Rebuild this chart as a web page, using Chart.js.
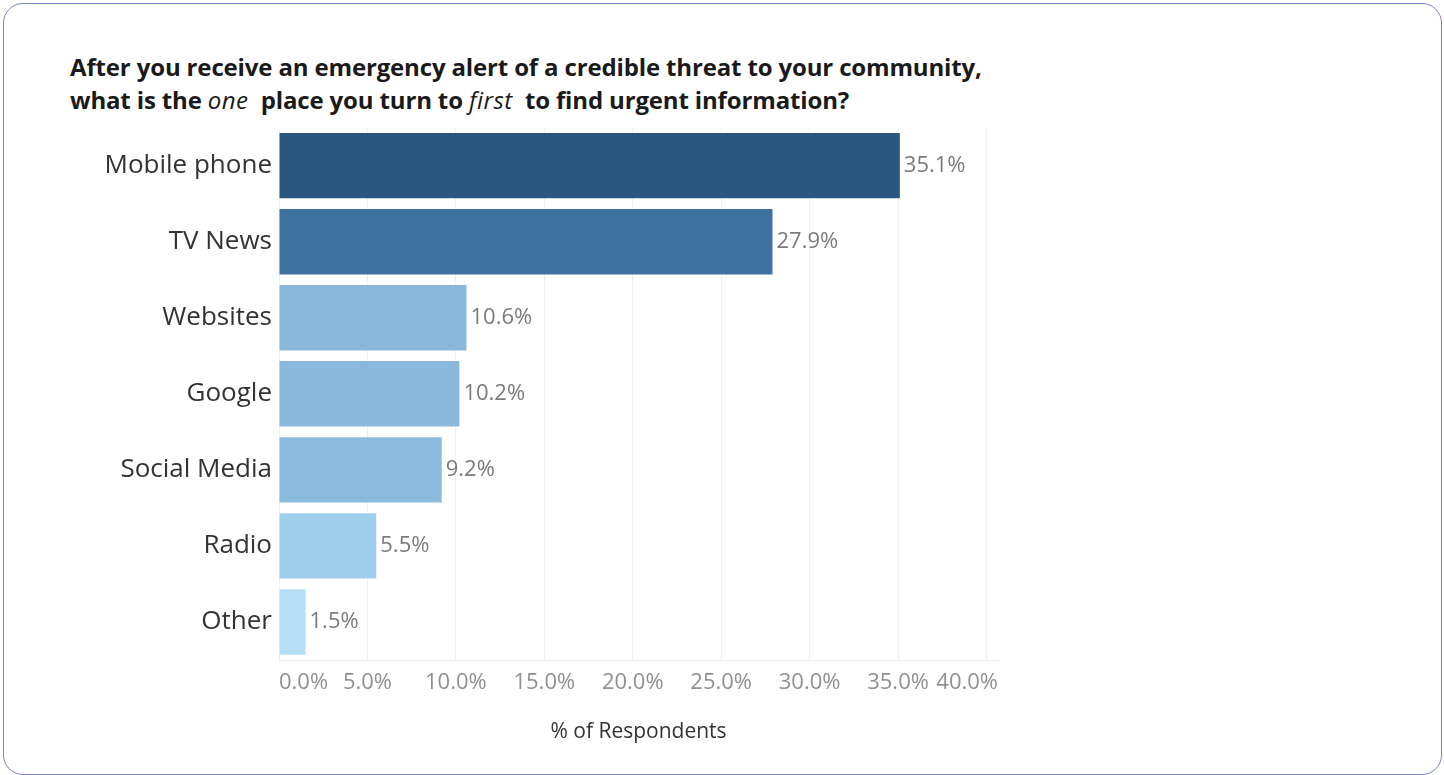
<!DOCTYPE html>
<html>
<head>
<meta charset="utf-8">
<script src="https://cdn.jsdelivr.net/npm/chart.js@4"></script>
<style>
  html, body { margin: 0; padding: 0; background: #fff; }
  body { width: 1444px; height: 775px; position: relative; overflow: hidden; font-family: "Open Sans", sans-serif; }
  .frame {
    position: absolute; left: 3px; top: 3px; width: 1439px; height: 772px;
    border: 1.5px solid #7c80c6; border-radius: 20px; box-sizing: border-box;
  }
  .title {
    position: absolute; left: 70px; top: 50px;
    font-size: 24px; font-weight: 700; color: #1a1a1a; line-height: 33px;
    letter-spacing: -0.15px; white-space: pre;
  }
  .title em { font-weight: 500; letter-spacing: 0.5px; }
  .wrap { position: absolute; left: 0; top: 105px; width: 1020px; height: 655px; }
</style>
</head>
<body>
<div class="frame"></div>
<div class="title">After you receive an emergency alert of a credible threat to your community,
what is the <em>one</em>  place you turn to <em>first</em>  to find urgent information?</div>
<div class="wrap"><canvas id="chart"></canvas></div>
<script>
var categories = ["Mobile phone", "TV News", "Websites", "Google", "Social Media", "Radio", "Other"];
var values = [35.1, 27.9, 10.6, 10.2, 9.2, 5.5, 1.5];
var barColors = ["#29577f", "#3e71a0", "#89b8dc", "#89b8dc", "#8bbadf", "#9fceeb", "#b5ddf3"];
var tickValues = [0, 5, 10, 15, 20, 25, 30, 35, 40];
var axisEnd = 40.65; // axis runs a little past the last gridline, like the original

var lastTick = tickValues[tickValues.length - 1];
function pct(v) { return v.toFixed(1) + "%"; }

var valueLabels = {
  id: "valueLabels",
  afterDatasetsDraw: function (chart) {
    var ctx = chart.ctx;
    var meta = chart.getDatasetMeta(0);
    ctx.save();
    ctx.font = "22px 'Open Sans'";
    ctx.fillStyle = "#7b7b7b";
    ctx.textAlign = "left";
    ctx.textBaseline = "middle";
    meta.data.forEach(function (bar, i) {
      ctx.fillText(pct(values[i]), bar.x + 4, bar.y);
    });
    ctx.restore();
  }
};

var ctx = document.getElementById("chart").getContext("2d");
var myChart = new Chart(ctx, {
  type: "bar",
  data: {
    labels: categories,
    datasets: [
      {
        data: values,
        backgroundColor: barColors,
        barPercentage: 0.86,
        categoryPercentage: 1
      }
    ]
  },
  options: {
    indexAxis: "y",
    responsive: true,
    maintainAspectRatio: false,
    animation: false,
    layout: { padding: { top: 0, right: 22, bottom: 0, left: 0 } },
    plugins: {
      legend: { display: false },
      tooltip: { enabled: false }
    },
    scales: {
      x: {
        min: 0,
        max: axisEnd,
        afterBuildTicks: function (scale) {
          var t = tickValues.map(function (v) { return { value: v }; });
          t.push({ value: axisEnd });
          scale.ticks = t;
        },
        afterFit: function (scale) { scale.height = 100; },
        grid: {
          drawTicks: false,
          color: function (c) {
            return c.tick && c.tick.value === axisEnd ? "rgba(0,0,0,0)" : "#f0f0f0";
          }
        },
        border: { color: "#ebebeb" },
        ticks: {
          align: "inner",
          padding: 10,
          color: "#909090",
          font: { family: "Open Sans", size: 22 },
          callback: function (value) {
            // last label sits flush with the axis end (Tableau style)
            if (value === axisEnd) return pct(lastTick);
            if (value === lastTick) return "";
            return pct(value);
          }
        },
        title: {
          display: true,
          text: "% of Respondents",
          color: "#333",
          font: { family: "Open Sans", size: 21 },
          padding: { top: 0, bottom: 15 }
        }
      },
      y: {
        afterFit: function (scale) { scale.width = 279; },
        grid: { display: false, drawTicks: false },
        border: { display: false },
        ticks: {
          padding: 7,
          color: "#333",
          font: { family: "Open Sans", size: 26 }
        }
      }
    }
  },
  plugins: [valueLabels]
});
</script>
</body>
</html>
